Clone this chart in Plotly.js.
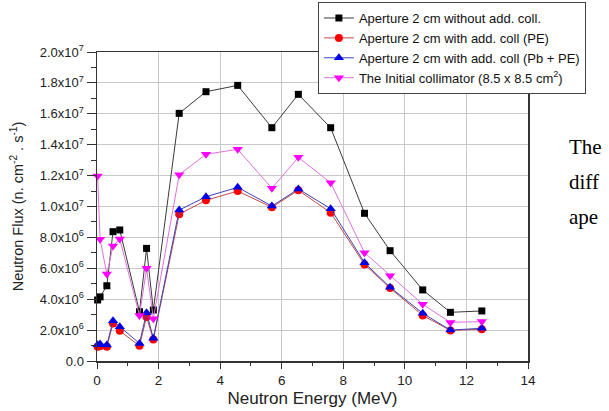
<!DOCTYPE html>
<html>
<head>
<meta charset="utf-8">
<script src="https://cdn.plot.ly/plotly-3.0.1.min.js"></script>
<style>html,body{margin:0;padding:0;background:#fff;}#chart{width:609px;height:411px;}</style>
</head>
<body>
<div id="chart"></div>
<script>
// Neutron energy (MeV) shared by all series
const energy = [0.02, 0.1, 0.32, 0.52, 0.74, 1.38, 1.61, 1.83, 2.67, 3.54, 4.57, 5.68, 6.54, 7.59, 8.69, 9.52, 10.58, 11.48, 12.5];

// Neutron flux (n cm^-2 s^-1)
const fluxNoColl   = [3.95e6, 4.15e6, 4.87e6, 8.37e6, 8.48e6, 3.19e6, 7.29e6, 3.30e6, 1.603e7, 1.743e7, 1.784e7, 1.51e7, 1.726e7, 1.51e7, 9.56e6, 7.14e6, 4.60e6, 3.15e6, 3.24e6];
const fluxPE       = [0.93e6, 0.95e6, 0.93e6, 2.42e6, 1.95e6, 0.98e6, 2.85e6, 1.39e6, 9.50e6, 1.040e7, 1.100e7, 9.95e6, 1.105e7, 9.60e6, 6.25e6, 4.72e6, 2.95e6, 1.98e6, 2.05e6];
const fluxPbPE     = [1.05e6, 1.10e6, 1.04e6, 2.61e6, 2.22e6, 1.14e6, 3.13e6, 1.47e6, 9.77e6, 1.063e7, 1.124e7, 1.003e7, 1.113e7, 9.86e6, 6.36e6, 4.77e6, 3.09e6, 2.00e6, 2.12e6];
const fluxInitial  = [1.197e7, 7.88e6, 5.63e6, 7.44e6, 7.90e6, 2.95e6, 6.00e6, 2.74e6, 1.206e7, 1.338e7, 1.370e7, 1.118e7, 1.318e7, 1.154e7, 7.01e6, 5.52e6, 3.67e6, 2.50e6, 2.55e6];

const seriesNames = [
  'Aperture 2 cm without add. coll.',
  'Aperture 2 cm with add. coll (PE)',
  'Aperture 2 cm with add. coll (Pb + PE)',
  'The Initial collimator (8.5 x 8.5 cm<sup>2</sup>)'
];

const yTickVals = [0, 2e6, 4e6, 6e6, 8e6, 1e7, 1.2e7, 1.4e7, 1.6e7, 1.8e7, 2e7];
const yTickText = ['0.0', '2.0x10<sup>6</sup>', '4.0x10<sup>6</sup>', '6.0x10<sup>6</sup>', '8.0x10<sup>6</sup>',
  '1.0x10<sup>7</sup>', '1.2x10<sup>7</sup>', '1.4x10<sup>7</sup>', '1.6x10<sup>7</sup>', '1.8x10<sup>7</sup>', '2.0x10<sup>7</sup>'];
const xTickVals = [0, 2, 4, 6, 8, 10, 12, 14];

const traces = [
  {x: energy, y: fluxNoColl, name: seriesNames[0], mode: 'lines+markers', cliponaxis: false,
   line: {color: '#3a3a3a', width: 1}, marker: {symbol: 'square', size: 7, color: '#000'}},
  {x: energy, y: fluxPE, name: seriesNames[1], mode: 'lines+markers', cliponaxis: false,
   line: {color: '#c84848', width: 1}, marker: {symbol: 'circle', size: 8, color: '#ff0000'}},
  {x: energy, y: fluxPbPE, name: seriesNames[2], mode: 'lines+markers', cliponaxis: false,
   line: {color: '#4040b8', width: 1}, marker: {symbol: 'triangle-up', size: 9, color: '#0000e6'}},
  {x: energy, y: fluxInitial, name: seriesNames[3], mode: 'lines+markers', cliponaxis: false,
   line: {color: '#e070e0', width: 1}, marker: {symbol: 'triangle-down', size: 9, color: '#ff00ff'}}
];

const layout = {
  width: 609, height: 411,
  margin: {l: 97, r: 81, t: 52, b: 50, autoexpand: false},
  paper_bgcolor: '#fff', plot_bgcolor: '#fff',
  font: {family: 'Arial, "Liberation Sans", sans-serif', color: '#222'},
  showlegend: true,
  legend: {xref: 'container', yref: 'container', x: 0.522, y: 0.995, xanchor: 'left', yanchor: 'top',
    bgcolor: '#fff', bordercolor: '#444', borderwidth: 1,
    font: {size: 13, color: '#111'}, tracegroupgap: 0},
  xaxis: {
    range: [0, 14], tickvals: xTickVals, ticks: 'outside', ticklen: 6, tickwidth: 1, tickcolor: '#333',
    showgrid: true, gridcolor: '#c8c8c8', gridwidth: 1, zeroline: false,
    showline: true, linecolor: '#333', linewidth: 1.5, mirror: true,
    minor: {dtick: 1, ticks: 'outside', ticklen: 3, tickcolor: '#333', showgrid: false},
    tickfont: {size: 13.5, color: '#222'},
    title: {text: 'Neutron Energy (MeV)', font: {size: 17, color: '#222'}, standoff: 5}
  },
  yaxis: {
    range: [0, 2e7], tickvals: yTickVals, ticktext: yTickText, ticks: 'outside', ticklen: 9, tickwidth: 1, tickcolor: '#333',
    showgrid: true, gridcolor: '#c8c8c8', gridwidth: 1, zeroline: false,
    showline: true, linecolor: '#333', linewidth: 1.5, mirror: true,
    minor: {dtick: 1e6, ticks: 'outside', ticklen: 5, tickcolor: '#333', showgrid: false},
    tickfont: {size: 13, color: '#222'},
    title: {text: 'Neutron Flux (n. cm<sup>-2</sup> . s<sup>-1</sup>)', font: {size: 14.5, color: '#222'}, standoff: 12}
  },
  annotations: [
    {text: 'The', xref: 'paper', yref: 'paper', x: 1.09, y: 0.692, xanchor: 'left', yanchor: 'middle', showarrow: false,
     font: {family: '"Liberation Serif", "Times New Roman", serif', size: 21, color: '#000'}},
    {text: 'diff', xref: 'paper', yref: 'paper', x: 1.09, y: 0.58, xanchor: 'left', yanchor: 'middle', showarrow: false,
     font: {family: '"Liberation Serif", "Times New Roman", serif', size: 21, color: '#000'}},
    {text: 'ape', xref: 'paper', yref: 'paper', x: 1.09, y: 0.466, xanchor: 'left', yanchor: 'middle', showarrow: false,
     font: {family: '"Liberation Serif", "Times New Roman", serif', size: 21, color: '#000'}}
  ]
};

Plotly.newPlot('chart', traces, layout, {displayModeBar: false, staticPlot: true});
</script>
</body>
</html>
